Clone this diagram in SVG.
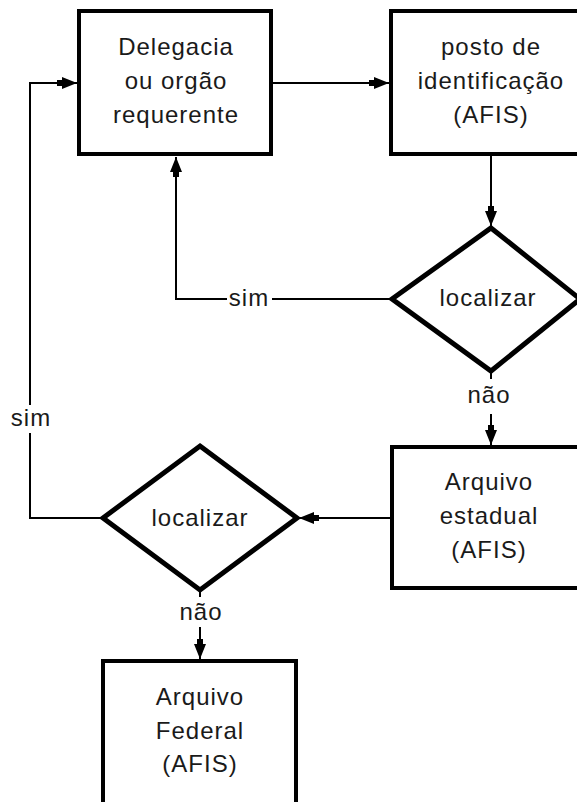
<svg xmlns="http://www.w3.org/2000/svg" width="577" height="802" viewBox="0 0 577 802">
<style>
.box{fill:#fff;stroke:#000;stroke-width:4}
.dia{fill:#fff;stroke:#000;stroke-width:5;stroke-linejoin:miter}
.con{fill:none;stroke:#000;stroke-width:2}
text{font-family:"Liberation Sans",Arial,sans-serif;font-size:24px;letter-spacing:1px;fill:#1a1a1a;text-anchor:middle}
</style>
<defs>
<marker id="ah" viewBox="0 0 20 14" refX="20" refY="7" markerWidth="20" markerHeight="14" markerUnits="userSpaceOnUse" orient="auto">
<path d="M0,4 L5,4 L5,1 L20,7 L5,13 L5,10 L0,10 Z" fill="#000"/>
</marker>
</defs>
<rect width="577" height="802" fill="#fff"/>
<g id="connectors">
<line class="con" x1="273" y1="83" x2="389" y2="83" marker-end="url(#ah)"/>
<line class="con" x1="491" y1="155" x2="491" y2="226" marker-end="url(#ah)"/>
<path class="con" d="M392,299 H272"/>
<path class="con" d="M227,299 H176 V157" marker-end="url(#ah)"/>
<text x="249" y="306">sim</text>
<line class="con" x1="491" y1="371" x2="491" y2="379"/>
<text x="489" y="403">não</text>
<line class="con" x1="491" y1="414" x2="491" y2="445" marker-end="url(#ah)"/>
<line class="con" x1="392" y1="518" x2="299" y2="518" marker-end="url(#ah)"/>
<path class="con" d="M103,518 H30 V433"/>
<path class="con" d="M30,405 V83 H77" marker-end="url(#ah)"/>
<text x="31" y="426">sim</text>
<line class="con" x1="200" y1="590" x2="200" y2="597"/>
<text x="201" y="620">não</text>
<line class="con" x1="200" y1="627" x2="200" y2="659" marker-end="url(#ah)"/>
</g>
<g id="delegacia">
<rect class="box" x="79" y="11" width="192" height="143"/>
<text x="176" y="55">Delegacia</text>
<text x="176" y="89">ou orgão</text>
<text x="176" y="123">requerente</text>
</g>
<g id="posto">
<rect class="box" x="391" y="11" width="200" height="143"/>
<text x="491" y="55">posto de</text>
<text x="491" y="89">identificação</text>
<text x="491" y="123">(AFIS)</text>
</g>
<g id="localizar1">
<polygon class="dia" points="491,228 580,299 491,371 392,299"/>
<text x="488" y="306">localizar</text>
</g>
<g id="estadual">
<rect class="box" x="392" y="447" width="200" height="141"/>
<text x="489" y="490">Arquivo</text>
<text x="489" y="524">estadual</text>
<text x="489" y="558">(AFIS)</text>
</g>
<g id="localizar2">
<polygon class="dia" points="200,446 297,518 200,590 103,518"/>
<text x="200" y="526">localizar</text>
</g>
<g id="federal">
<rect class="box" x="103" y="661" width="193" height="170"/>
<text x="200" y="705">Arquivo</text>
<text x="200" y="739">Federal</text>
<text x="200" y="772">(AFIS)</text>
</g>
</svg>
